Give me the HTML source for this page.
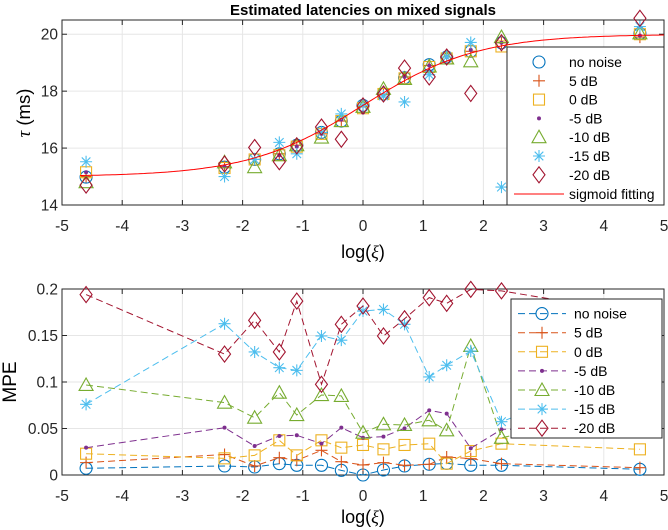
<!DOCTYPE html>
<html><head><meta charset="utf-8"><style>
body{margin:0;background:#fff}
svg{display:block;font-family:"Liberation Sans",sans-serif}
</style></head><body>
<svg id="c" width="668" height="530"></svg>
<script>
const xs=[-4.6,-2.3,-1.8,-1.39,-1.1,-0.69,-0.36,0,0.34,0.69,1.1,1.39,1.79,2.3,4.6];
const seriesNames=["no noise","5 dB","0 dB","-5 dB","-10 dB","-15 dB","-20 dB"];
const tauNoNoise=[14.98,15.33,15.6,15.8,16.1,16.55,16.95,17.5,17.9,18.47,18.93,19.2,19.4,19.7,20.03];
const tau5=[15.0,15.35,15.6,15.8,16.1,16.5,16.95,17.45,17.9,18.5,18.9,19.2,19.4,19.7,19.9];
const tau0=[15.15,15.3,15.6,15.75,16.05,16.5,16.95,17.4,17.9,18.45,18.85,19.15,19.4,19.57,20.0];
const taum5=[15.15,15.35,15.6,15.75,16.05,16.5,17.0,17.25,17.85,18.5,18.9,19.2,19.45,19.7,19.95];
const taum10=[14.8,15.5,15.33,15.75,16.1,16.37,16.95,17.45,18.08,18.43,18.87,19.15,19.05,19.9,20.03];
const taum15=[15.52,15.0,15.6,16.2,15.8,16.55,17.2,17.5,17.83,17.62,18.58,19.2,19.71,14.63,20.27];
const taum20=[14.7,15.44,16.02,15.52,16.08,16.74,16.31,17.48,17.9,18.81,18.5,19.2,17.92,19.7,20.56];
const mpeNoNoise=[0.0072,0.0097,0.0086,0.0122,0.0104,0.0104,0.005,0,0.0054,0.0097,0.0115,0.0125,0.0104,0.0104,0.0061];
const mpe5=[0.0133,0.022,0.0097,0.0186,0.0158,0.0265,0.0143,0.0108,0.0133,0.0104,0.0115,0.0194,0.0176,0.0122,0.0079];
const mpe0=[0.0229,0.0179,0.0211,0.0373,0.0211,0.0373,0.0294,0.0323,0.0276,0.0323,0.0337,0.0122,0.0258,0.0337,0.0276];
const mpem5=[0.0294,0.0509,0.0312,0.042,0.0427,0.0337,0.0509,0.0401,0.0412,0.0502,0.0695,0.066,0.0287,0.049,0.052];
const mpem10=[0.0968,0.0778,0.0616,0.0885,0.0645,0.086,0.085,0.0455,0.0545,0.0538,0.0588,0.048,0.1387,0.04,0.0724];
const mpem15=[0.076,0.1627,0.1323,0.1154,0.1125,0.1495,0.145,0.1763,0.178,0.162,0.1054,0.118,0.1333,0.0573,0.1143];
const mpem20=[0.194,0.13,0.1663,0.1323,0.187,0.0975,0.162,0.1817,0.1495,0.168,0.1907,0.1846,0.1996,0.198,0.1735];
const xTicks=[-5,-4,-3,-2,-1,0,1,2,3,4,5];
const yTicksTop=[14,16,18,20];
const yTicksBot=[0,0.05,0.1,0.15,0.2];
const yTickLabelsBot=["0","0.05","0.1","0.15","0.2"];

const colors=["#0072BD","#D95319","#EDB120","#7E2F8E","#77AC30","#4DBEEE","#A2142F"];
const markers=["o","+","s",".","^","*","d"];
const tauSeries=[tauNoNoise,tau5,tau0,taum5,taum10,taum15,taum20];
const mpeSeries=[mpeNoNoise,mpe5,mpe0,mpem5,mpem10,mpem15,mpem20];

const svg=document.getElementById('c');
const NS="http://www.w3.org/2000/svg";
function mk(tag,attrs,parent){const e=document.createElementNS(NS,tag);for(const k in attrs)e.setAttribute(k,attrs[k]);(parent||svg).appendChild(e);return e;}
const X0=62,X1=664;
const sx=v=>X0+(v+5)/10*(X1-X0);
const T0=20,T1=205;
const syT=v=>T1-(v-14)/6.5*(T1-T0);
const B0=289,B1=475;
const syB=v=>B1-v/0.2*(B1-B0);

function marker(g,type,x,y,col){
  const s={stroke:col,fill:"none","stroke-width":1.1};
  if(type==="o")mk('circle',Object.assign({cx:x,cy:y,r:6},s),g);
  else if(type==="+"){mk('path',Object.assign({d:`M${x-6} ${y}H${x+6}M${x} ${y-6}V${y+6}`},s),g);}
  else if(type==="s")mk('rect',Object.assign({x:x-5.5,y:y-5.5,width:11,height:11},s),g);
  else if(type===".")mk('circle',{cx:x,cy:y,r:2,fill:col},g);
  else if(type==="^")mk('path',Object.assign({d:`M${x} ${y-7}L${x+7} ${y+5.5}L${x-7} ${y+5.5}Z`},s),g);
  else if(type==="*"){mk('path',Object.assign({d:`M${x-6} ${y}H${x+6}M${x} ${y-6}V${y+6}M${x-4.3} ${y-4.3}L${x+4.3} ${y+4.3}M${x-4.3} ${y+4.3}L${x+4.3} ${y-4.3}`},s),g);}
  else if(type==="d")mk('path',Object.assign({d:`M${x} ${y-8}L${x+6} ${y}L${x} ${y+8}L${x-6} ${y}Z`},s),g);
}

function axes(name,y0,y1,yt,ylab,sy,xlOff){
  const g=mk('g',{});
  
  
  mk('rect',{x:X0,y:y0,width:X1-X0,height:y1-y0,fill:"#fff"},g);
  xTicks.forEach(t=>{const x=sx(t);mk('line',{x1:x,x2:x,y1:y0,y2:y1,stroke:"#e6e6e6","stroke-width":1},g);
    mk('line',{x1:x,x2:x,y1:y1,y2:y1-5,stroke:"#262626"},g);mk('line',{x1:x,x2:x,y1:y0,y2:y0+5,stroke:"#262626"},g);
    const tx=mk('text',{x:x,y:y1+26,"text-anchor":"middle","font-size":15.5,fill:"#262626"},g);tx.textContent=t;
    });
  yt.forEach((t,i)=>{const y=sy(t);mk('line',{x1:X0,x2:X1,y1:y,y2:y,stroke:"#e6e6e6"},g);
    mk('line',{x1:X0,x2:X0+5,y1:y,y2:y,stroke:"#262626"},g);mk('line',{x1:X1,x2:X1-5,y1:y,y2:y,stroke:"#262626"},g);
    const tx=mk('text',{x:X0-4,y:y+5.5,"text-anchor":"end","font-size":15.5,fill:"#262626"},g);tx.textContent=ylab[i];
    });
  mk('rect',{x:X0,y:y0,width:X1-X0,height:y1-y0,fill:"none",stroke:"#262626","stroke-width":1},g);
  const xl=mk('text',{x:363,y:y1+xlOff,"text-anchor":"middle","font-size":18,fill:"#000"},g);
  xl.innerHTML='log(<tspan font-family="Liberation Serif" font-style="italic">ξ</tspan>)';
  
  return g;
}

// Top chart
axes('top-axes',T0,T1,yTicksTop,yTicksTop.map(String),syT,53);
const tt=mk('text',{x:363,y:15,"text-anchor":"middle","font-size":15,"font-weight":"bold",fill:"#000"});
tt.textContent="Estimated latencies on mixed signals";

const ylt=mk('text',{transform:"translate(30,113) rotate(-90)","text-anchor":"middle","font-size":18.5});
ylt.innerHTML='<tspan font-family="Liberation Serif" font-style="italic">τ</tspan> (ms)';

const gTop=mk('g',{});


tauSeries.forEach((s,i)=>s.forEach((v,j)=>marker(gTop,markers[i],sx(xs[j]),syT(v),colors[i])));
let d="";for(let k=0;k<=200;k++){const v=-4.7+k*9.7/200;const y=15+5/(1+Math.exp(-1.05*v));d+=(k?"L":"M")+sx(v).toFixed(1)+" "+syT(y).toFixed(1);}
const sig=mk('path',{d:d,stroke:"#FF0000",fill:"none","stroke-width":1});


// top legend
const lg=mk('g',{});


mk('rect',{x:507,y:47,width:157,height:158,fill:"#fff",stroke:"#262626"},lg);
seriesNames.forEach((n,i)=>{const y=62+i*18.8;marker(lg,markers[i],539,y,colors[i]);
  const t=mk('text',{x:569,y:y+5,"font-size":14},lg);t.textContent=n;});
mk('line',{x1:514,x2:564,y1:194,y2:194,stroke:"#FF0000"},lg);
const st=mk('text',{x:569,y:199,"font-size":14},lg);st.textContent="sigmoid fitting";

// Bottom chart
axes('bottom-axes',B0,B1,yTicksBot,yTickLabelsBot,syB,48);
const ylb=mk('text',{transform:"translate(16,382) rotate(-90)","text-anchor":"middle","font-size":19});
ylb.textContent="MPE";

const gB=mk('g',{});


mpeSeries.forEach((s,i)=>{
  const pd=s.map((v,j)=>(j?"L":"M")+sx(xs[j]).toFixed(1)+" "+syB(v).toFixed(1)).join("");
  const p=mk('path',{d:pd,stroke:colors[i],fill:"none","stroke-width":1,"stroke-dasharray":"7,4"},gB);
  
  s.forEach((v,j)=>marker(gB,markers[i],sx(xs[j]),syB(v),colors[i]));
});
const lb=mk('g',{});


mk('rect',{x:511,y:299,width:151,height:139,fill:"#fff",stroke:"#262626"},lb);
seriesNames.forEach((n,i)=>{const y=313.6+i*19.1;
  mk('line',{x1:518,x2:566,y1:y,y2:y,stroke:colors[i],"stroke-dasharray":"7,4"},lb);
  marker(lb,markers[i],542,y,colors[i]);
  const t=mk('text',{x:574,y:y+5,"font-size":14},lb);t.textContent=n;});
</script>
</body></html>
